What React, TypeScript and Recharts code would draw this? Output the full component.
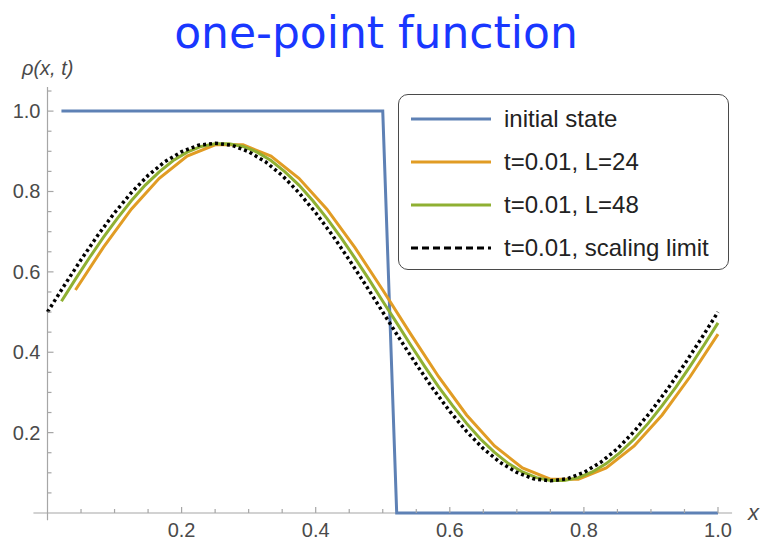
import { LineChart, Line, XAxis, YAxis, ReferenceLine } from "recharts";

// lattice positions for L=24 and L=48, plus a fine grid for the scaling limit
const X_L24 = [
  0.0417, 0.0833, 0.125, 0.1667, 0.2083, 0.25, 0.2917, 0.3333, 0.375, 0.4167, 0.4583, 0.5,
  0.5417, 0.5833, 0.625, 0.6667, 0.7083, 0.75, 0.7917, 0.8333, 0.875, 0.9167, 0.9583, 1.0,
];
const RHO_L24 = [
  0.555, 0.661, 0.756, 0.833, 0.888, 0.916, 0.916, 0.888, 0.833, 0.756, 0.661, 0.555,
  0.445, 0.339, 0.244, 0.167, 0.112, 0.084, 0.084, 0.112, 0.167, 0.244, 0.339, 0.445,
];

const X_L48 = [
  0.0208, 0.0417, 0.0625, 0.0833, 0.1042, 0.125, 0.1458, 0.1667, 0.1875, 0.2083, 0.2292, 0.25,
  0.2708, 0.2917, 0.3125, 0.3333, 0.3542, 0.375, 0.3958, 0.4167, 0.4375, 0.4583, 0.4792, 0.5,
  0.5208, 0.5417, 0.5625, 0.5833, 0.6042, 0.625, 0.6458, 0.6667, 0.6875, 0.7083, 0.7292, 0.75,
  0.7708, 0.7917, 0.8125, 0.8333, 0.8542, 0.875, 0.8958, 0.9167, 0.9375, 0.9583, 0.9792, 1.0,
];
const RHO_L48 = [
  0.527, 0.582, 0.635, 0.686, 0.733, 0.777, 0.816, 0.849, 0.877, 0.898, 0.912, 0.919,
  0.919, 0.912, 0.898, 0.877, 0.849, 0.816, 0.777, 0.733, 0.686, 0.635, 0.582, 0.527,
  0.473, 0.418, 0.365, 0.314, 0.267, 0.223, 0.184, 0.151, 0.123, 0.102, 0.088, 0.081,
  0.081, 0.088, 0.102, 0.123, 0.151, 0.184, 0.223, 0.267, 0.314, 0.365, 0.418, 0.473,
];
const RHO_INITIAL = [
  1, 1, 1, 1, 1, 1, 1, 1, 1, 1, 1, 1, 1, 1, 1, 1, 1, 1, 1, 1, 1, 1, 1, 1,
  0, 0, 0, 0, 0, 0, 0, 0, 0, 0, 0, 0, 0, 0, 0, 0, 0, 0, 0, 0, 0, 0, 0, 0,
];

const X_LIMIT = [
  0, 0.025, 0.05, 0.075, 0.1, 0.125, 0.15, 0.175, 0.2, 0.225, 0.25, 0.275, 0.3, 0.325,
  0.35, 0.375, 0.4, 0.425, 0.45, 0.475, 0.5, 0.525, 0.55, 0.575, 0.6, 0.625, 0.65, 0.675,
  0.7, 0.725, 0.75, 0.775, 0.8, 0.825, 0.85, 0.875, 0.9, 0.925, 0.95, 0.975, 1.0,
];
const RHO_LIMIT = [
  0.5, 0.566, 0.63, 0.691, 0.747, 0.797, 0.84, 0.874, 0.899, 0.915, 0.92, 0.915, 0.899, 0.874,
  0.84, 0.797, 0.747, 0.691, 0.63, 0.566, 0.5, 0.434, 0.37, 0.309, 0.253, 0.203, 0.16, 0.126,
  0.101, 0.085, 0.08, 0.085, 0.101, 0.126, 0.16, 0.203, 0.253, 0.309, 0.37, 0.434, 0.5,
];

const X_TICKS = [
  0.05, 0.1, 0.15, 0.2, 0.25, 0.3, 0.35, 0.4, 0.45, 0.5, 0.55, 0.6, 0.65, 0.7, 0.75, 0.8,
  0.85, 0.9, 0.95, 1.0,
];
const Y_TICKS = [
  0.05, 0.1, 0.15, 0.2, 0.25, 0.3, 0.35, 0.4, 0.45, 0.5, 0.55, 0.6, 0.65, 0.7, 0.75, 0.8,
  0.85, 0.9, 0.95, 1.0, 1.05,
];

const SERIES = [
  { name: "initial state", color: "#5e81b5", dash: undefined },
  { name: "t=0.01, L=24", color: "#e19c24", dash: undefined },
  { name: "t=0.01, L=48", color: "#8fb032", dash: undefined },
  { name: "t=0.01, scaling limit", color: "#000000", dash: "7 4" },
];

const zip = (xs: number[], ys: number[]) => xs.map((x, i) => ({ x, y: ys[i] }));

const initialData = zip(X_L48, RHO_INITIAL);
const l24Data = zip(X_L24, RHO_L24);
const l48Data = zip(X_L48, RHO_L48);
const limitData = zip(X_LIMIT, RHO_LIMIT);

const FONT = '"Liberation Sans", Arial, Helvetica, sans-serif';
const AXIS = "#a6a6a6";
const LABEL = "#4a4a4a";

const isMajor = (v: number) => Math.abs(v / 0.2 - Math.round(v / 0.2)) < 1e-6;

function XTick(props: any) {
  const { x, y, payload } = props;
  const v = payload.value as number;
  const major = isMajor(v);
  return (
    <g>
      <line x1={x} x2={x} y1={y} y2={y - (major ? 6 : 4)} stroke={AXIS} strokeWidth={1.2} />
      {major && (
        <text x={x} y={y + 24} textAnchor="middle" fontSize={20} fill={LABEL} fontFamily={FONT}>
          {v.toFixed(1)}
        </text>
      )}
    </g>
  );
}

function YTick(props: any) {
  const { x, y, payload } = props;
  const v = payload.value as number;
  const major = isMajor(v);
  return (
    <g>
      <line x1={x} x2={x + (major ? 6 : 4)} y1={y} y2={y} stroke={AXIS} strokeWidth={1.2} />
      {major && (
        <text x={x - 7} y={y + 7} textAnchor="end" fontSize={20} fill={LABEL} fontFamily={FONT}>
          {v.toFixed(1)}
        </text>
      )}
    </g>
  );
}

function LegendBox() {
  return (
    <div
      style={{
        position: "absolute",
        left: 398,
        top: 94,
        width: 329,
        height: 174,
        border: "1.5px solid #4a4a4a",
        borderRadius: 10,
        background: "#fff",
      }}
    >
      {SERIES.map((s, i) => (
        <div
          key={s.name}
          style={{ position: "absolute", left: 0, top: 24 + i * 43 - 15, height: 30, display: "flex", alignItems: "center" }}
        >
          <svg width={100} height={30} style={{ display: "block" }}>
            <line x1={12} x2={92} y1={15} y2={15} stroke={s.color} strokeWidth={3} strokeDasharray={s.dash} />
          </svg>
          <span style={{ marginLeft: 5, fontFamily: FONT, fontSize: 24, color: "#222", whiteSpace: "nowrap" }}>
            {s.name}
          </span>
        </div>
      ))}
    </div>
  );
}

export default function App() {
  return (
    <div style={{ position: "absolute", left: 0, top: 0, width: 761, height: 540, background: "#fff" }}>
      <LineChart width={761} height={540} margin={{ top: 87, right: 43, bottom: 0, left: 0 }}>
        <XAxis
          type="number"
          dataKey="x"
          domain={[0, 1]}
          ticks={X_TICKS}
          interval={0}
          height={27}
          axisLine={false}
          tickLine={false}
          tickSize={0}
          tickMargin={0}
          tick={<XTick />}
        />
        <YAxis
          type="number"
          dataKey="y"
          domain={[0, 1.06]}
          ticks={Y_TICKS}
          interval={0}
          width={47.5}
          axisLine={false}
          tickLine={false}
          tickSize={0}
          tickMargin={0}
          tick={<YTick />}
        />
        <ReferenceLine
          segment={[{ x: -0.021, y: 0 }, { x: 1.021, y: 0 }]}
          stroke={AXIS}
          strokeWidth={1.2}
          ifOverflow="visible"
        />
        <ReferenceLine
          segment={[{ x: 0, y: -0.018 }, { x: 0, y: 1.06 }]}
          stroke={AXIS}
          strokeWidth={1.2}
          ifOverflow="visible"
        />
        <Line data={initialData} dataKey="y" type="linear" stroke={SERIES[0].color} strokeWidth={3} dot={false} isAnimationActive={false} />
        <Line data={l24Data} dataKey="y" type="linear" stroke={SERIES[1].color} strokeWidth={3} dot={false} isAnimationActive={false} />
        <Line data={l48Data} dataKey="y" type="linear" stroke={SERIES[2].color} strokeWidth={3} dot={false} isAnimationActive={false} />
        <Line data={limitData} dataKey="y" type="linear" stroke={SERIES[3].color} strokeWidth={3.5} strokeDasharray="3 3" dot={false} isAnimationActive={false} />
      </LineChart>

      <svg width={761} height={540} style={{ position: "absolute", left: 0, top: 0, pointerEvents: "none" }}>
        <text
          x={376}
          y={48}
          textAnchor="middle"
          fontSize={44}
          fill="#1937ff"
          fontFamily='"Comic Sans MS", "DejaVu Sans", sans-serif'
        >
          one-point function
        </text>
        <text x={22} y={75} fontSize={20} fontStyle="italic" fill={LABEL} fontFamily={FONT}>
          ρ(x, t)
        </text>
        <text x={748} y={520} fontSize={22} fontStyle="italic" fill={LABEL} fontFamily={FONT}>
          x
        </text>
      </svg>

      <LegendBox />
    </div>
  );
}
